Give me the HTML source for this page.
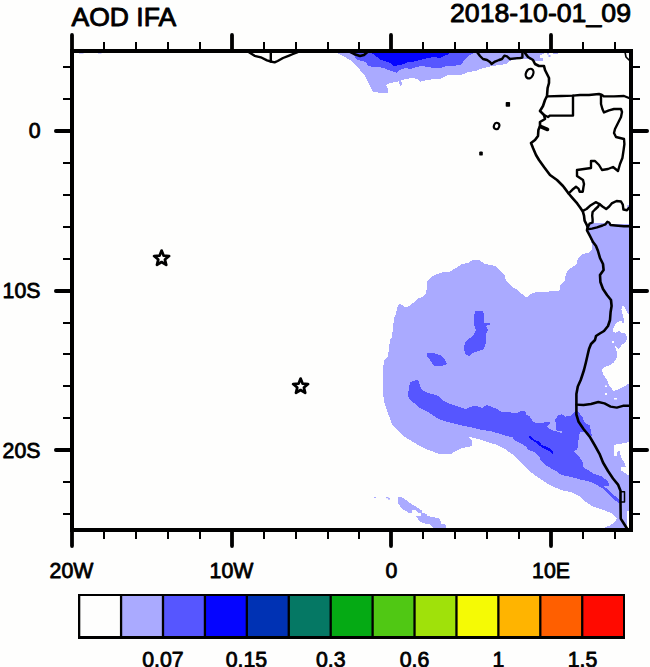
<!DOCTYPE html>
<html><head><meta charset="utf-8"><title>AOD IFA</title>
<style>
html,body{margin:0;padding:0;background:#fefefd;}
body{width:650px;height:667px;overflow:hidden;}
svg{display:block;}
text{font-family:"Liberation Sans",sans-serif;fill:#000;}
</style></head><body>
<svg width="650" height="667" viewBox="0 0 650 667">
<rect x="0" y="0" width="650" height="667" fill="#fefefd"/>
<polygon points="334.0,52.0 340.0,54.4 345.0,57.0 350.0,60.0 355.0,65.0 360.0,70.0 365.0,76.0 368.0,82.0 371.0,88.0 373.0,91.6 378.0,92.6 388.0,92.6 388.0,89.0 386.0,85.0 390.0,83.0 396.0,82.0 399.0,81.0 400.0,86.0 402.0,84.0 401.0,80.5 406.0,79.0 412.0,78.0 418.0,79.0 420.0,82.0 422.0,81.0 428.0,80.0 434.0,79.0 440.0,79.0 444.0,77.0 448.0,75.0 460.0,75.0 464.0,74.0 468.0,72.0 476.0,71.0 480.0,69.0 484.0,68.0 492.0,66.0 500.0,65.0 506.0,64.0 508.0,62.0 512.0,60.0 520.0,59.0 526.0,59.0 532.0,60.0 537.0,61.2 543.0,61.2 543.0,58.5 540.0,58.0 540.5,55.5 543.0,54.2 545.4,52.0" fill="#aaaaff" shape-rendering="crispEdges" />
<rect x="547" y="53" width="2" height="1.5" fill="#aaaaff"/><rect x="548.5" y="55" width="2" height="2" fill="#aaaaff"/><rect x="553" y="53" width="5" height="1" fill="#aaaaff"/>
<polygon points="349.0,52.0 354.0,55.0 357.0,60.0 362.0,61.0 366.0,62.0 368.0,65.6 372.0,67.0 377.0,67.0 384.0,68.0 388.0,70.0 394.0,72.0 397.0,73.0 399.0,70.0 406.0,68.0 410.0,69.0 416.0,67.0 422.0,66.0 428.0,67.0 434.0,68.0 440.0,68.0 446.0,66.0 452.0,66.0 460.0,65.0 463.0,62.0 465.0,59.0 468.0,56.0 472.0,54.0 476.0,52.0" fill="#5656ff" shape-rendering="crispEdges" />
<polygon points="367.0,52.0 373.0,54.0 377.0,57.0 380.0,60.0 385.0,61.0 390.0,63.0 394.0,66.0 400.0,65.0 404.0,64.0 408.0,62.0 414.0,61.6 420.0,60.0 424.0,59.0 428.0,58.0 434.0,57.0 440.0,58.0 444.0,56.0 448.0,54.4 450.0,52.0" fill="#0505ff" shape-rendering="crispEdges" />
<polygon points="589.5,224.0 592.6,222.5 606.0,222.5 608.0,221.3 610.0,224.3 629.5,224.5 629.5,529.0 604.5,527.9 610.6,525.0 615.5,521.5 616.8,518.0 613.0,514.0 608.0,511.7 600.8,509.0 593.4,506.8 586.0,502.0 578.6,495.7 571.0,492.0 563.8,490.8 556.5,488.0 549.0,484.6 541.7,479.7 534.0,474.8 527.0,468.6 519.5,461.0 512.0,454.0 504.8,449.0 497.4,445.0 490.0,443.0 482.0,440.0 474.0,438.0 469.0,437.0 472.0,441.0 472.0,446.0 468.0,447.0 462.0,448.0 456.0,451.0 450.0,454.4 440.0,454.4 434.0,452.0 426.0,449.0 418.0,445.0 410.0,440.0 403.0,436.0 397.0,430.0 392.0,424.0 389.0,416.0 386.0,408.0 383.6,400.0 383.0,380.0 383.0,370.0 384.0,360.0 388.0,356.0 389.0,348.0 390.0,340.0 392.0,337.0 393.0,328.0 394.0,318.0 396.0,314.0 397.0,308.0 399.0,304.0 402.0,305.0 405.0,307.6 409.0,306.0 413.0,303.0 417.0,299.0 422.0,297.0 426.0,293.0 427.0,288.0 427.0,282.0 430.0,278.0 436.0,274.4 442.0,272.4 450.0,271.6 456.0,268.0 462.0,264.0 468.0,263.0 473.0,260.0 479.0,260.0 485.0,264.0 490.0,265.0 495.0,266.0 500.0,271.0 505.0,276.0 506.0,281.0 511.0,286.0 516.0,289.0 522.0,294.0 527.0,297.6 530.0,294.0 535.0,292.4 542.0,292.4 548.0,291.6 560.0,290.4 560.4,285.0 565.0,280.0 565.6,275.0 568.0,270.0 574.0,266.0 577.0,263.0 578.0,258.0 582.0,254.0 588.0,253.0 592.0,250.0 592.0,244.0 590.0,238.0 588.0,231.0 587.5,227.5" fill="#aaaaff" shape-rendering="crispEdges" />
<rect x="627.3" y="205" width="2" height="4.5" fill="#aaaaff"/>
<polygon points="622.2,306.0 624.6,306.8 626.2,310.7 628.5,313.9 629.5,316.0 629.5,383.0 626.2,385.4 621.4,387.8 616.7,390.1 612.8,390.9 611.2,387.8 608.9,385.4 607.3,380.7 604.9,376.8 602.6,373.6 602.3,368.9 605.7,366.5 610.4,365.0 613.6,362.6 616.7,357.9 617.5,353.2 615.9,349.2 615.2,346.1 619.1,349.2 621.4,345.3 625.4,342.2 627.0,339.0 626.2,334.3 623.8,332.7 621.4,333.5 619.9,330.4 615.2,332.7 612.8,332.0 613.6,328.0 615.2,324.0 617.5,321.7 621.4,321.0 623.0,324.0 624.6,320.2 623.0,317.0 622.2,312.3 621.4,309.2" fill="#fefefd" shape-rendering="crispEdges" />
<rect x="612" y="341" width="2" height="2" fill="#fff"/><rect x="605" y="385.5" width="2" height="1.5" fill="#fff"/><rect x="605" y="393" width="2" height="2" fill="#fff"/><rect x="614" y="398" width="3" height="1.5" fill="#fff"/>
<polygon points="614.0,445.0 620.0,443.8 626.0,442.7 629.5,442.0 629.5,475.0 627.5,474.5 626.0,473.4 620.7,470.4 620.7,467.4 626.0,466.7 623.7,461.4 620.7,457.0 620.0,451.0 617.7,451.0 617.0,456.0 614.0,456.0" fill="#fefefd" shape-rendering="crispEdges" />
<rect x="627" y="511" width="2" height="17" fill="#fff" shape-rendering="crispEdges"/>
<polygon points="410.0,382.0 416.0,380.0 419.0,381.0 420.0,386.0 422.0,390.0 428.0,393.0 436.0,395.0 440.0,397.0 442.0,400.0 448.0,403.0 456.0,406.0 462.0,408.0 466.0,409.0 472.0,406.4 478.0,406.4 482.0,408.0 487.0,405.0 492.0,407.0 497.4,409.0 500.0,411.0 503.7,412.3 507.4,411.7 512.3,412.9 517.2,412.9 522.2,410.5 525.2,411.7 526.5,414.8 529.5,416.0 530.8,418.5 533.2,421.5 536.9,423.4 540.6,422.8 548.0,422.2 549.2,421.5 549.8,423.4 546.8,426.5 549.2,428.9 554.2,430.8 561.5,433.0 561.5,431.4 556.0,430.2 555.4,419.7 557.8,415.4 561.5,414.2 565.2,416.6 570.2,416.0 575.0,411.5 577.4,410.8 582.3,417.0 584.8,423.0 589.7,425.5 591.0,431.7 592.0,436.0 586.0,432.0 580.0,432.0 578.6,439.0 577.4,449.0 573.7,451.4 578.6,456.3 582.3,461.0 583.5,467.4 593.4,473.5 600.8,476.0 608.0,481.0 609.4,485.8 603.0,485.8 608.0,489.5 613.0,494.5 618.0,498.0 620.5,501.8 619.0,503.0 615.5,500.6 610.6,495.7 604.5,489.5 598.3,485.8 591.0,482.0 581.0,479.7 571.0,477.0 561.4,474.8 554.0,469.8 546.6,466.0 540.6,460.5 539.4,456.6 535.7,453.0 527.7,449.2 526.5,446.8 522.2,444.3 514.8,440.6 512.3,437.2 505.0,435.7 500.0,433.8 490.0,431.0 482.0,430.0 474.0,428.0 464.0,426.0 456.0,424.0 448.0,422.0 440.0,419.6 434.0,416.0 428.0,412.0 420.0,408.0 414.0,403.0 409.0,399.0 408.0,395.0 409.0,388.0" fill="#5656ff" shape-rendering="crispEdges" />
<polygon points="475.0,311.0 483.0,311.0 484.0,315.0 484.0,323.0 490.0,323.0 490.0,325.0 486.0,325.6 488.0,330.0 486.0,334.0 486.0,342.0 484.0,349.0 479.0,351.0 472.0,353.0 469.0,356.0 465.0,354.0 464.0,348.0 465.0,342.0 470.0,338.0 474.0,334.0 476.0,330.0 474.0,324.0 474.0,318.0" fill="#5656ff" shape-rendering="crispEdges" />
<polygon points="427.0,353.0 433.0,353.0 440.0,355.0 444.0,358.0 447.0,364.0 442.0,366.0 434.0,365.6 430.0,360.0 427.0,356.0" fill="#5656ff" shape-rendering="crispEdges" />
<polygon points="529.0,436.0 532.0,437.0 534.5,440.0 539.4,441.8 541.8,445.0 546.8,446.8 550.5,448.6 553.0,451.0 553.0,454.0 549.8,451.5 545.5,449.0 541.2,447.0 537.0,443.5 532.6,440.5 529.3,437.5" fill="#0505ff" shape-rendering="crispEdges" />
<polygon points="398.0,497.4 401.5,497.4 405.4,499.5 409.2,502.3 413.8,505.4 417.7,507.7 421.5,510.3 422.3,513.0 426.0,513.8 427.7,516.0 433.0,517.4 437.7,517.7 440.0,520.0 441.5,523.8 445.4,524.6 446.0,528.0 433.0,528.0 430.0,524.6 423.0,523.0 419.2,520.8 417.0,517.7 415.4,516.0 420.8,516.0 421.5,513.8 417.7,512.3 416.0,510.3 412.3,510.3 411.5,513.4 408.5,513.4 406.0,510.8 402.3,509.2 400.0,506.0 398.0,503.0" fill="#aaaaff" shape-rendering="crispEdges" />
<rect x="386" y="497" width="2.5" height="1.2" fill="#aaaaff"/><rect x="388" y="498" width="2" height="1.6" fill="#aaaaff"/><rect x="374" y="497" width="2" height="1" fill="#aaaaff"/>
<rect x="79" y="52.6" width="4.5" height="1" fill="#aaaaff"/><rect x="98" y="52.6" width="3.5" height="1" fill="#aaaaff"/>
<polyline points="249.0,52.2 254.6,55.8 260.8,57.3 267.0,60.4 270.8,61.5 274.6,62.4 277.7,61.0 283.0,58.0 288.5,55.8 293.0,54.0 297.7,52.2" fill="none" stroke="#000" stroke-width="2.40" stroke-linejoin="round" stroke-linecap="round" />
<polyline points="270.8,52.0 270.8,61.5" fill="none" stroke="#000" stroke-width="2.40" stroke-linejoin="round" stroke-linecap="round" />
<polyline points="349.0,51.5 354.0,54.0 360.0,56.0 364.0,55.0 368.0,51.5" fill="none" stroke="#000" stroke-width="2.40" stroke-linejoin="round" stroke-linecap="round" />
<polyline points="477.0,52.0 480.0,56.0 483.0,59.0 487.0,60.0 490.0,62.0 491.6,64.0 495.0,61.6 499.0,60.0 502.0,59.0 504.4,55.6 507.0,56.4 510.0,59.0 515.0,58.4 520.0,58.0 522.4,57.6 522.4,52.0" fill="none" stroke="#000" stroke-width="2.40" stroke-linejoin="round" stroke-linecap="round" />
<polyline points="525.0,53.0 528.0,57.0 533.0,60.0 535.0,64.0 539.0,66.0 544.0,66.0 545.0,70.0 547.0,74.0 549.0,78.0 549.0,83.0 547.6,88.0 547.0,96.0 545.0,100.0 543.0,106.0 540.0,111.0 544.0,115.0 545.0,119.0 540.0,122.0 540.0,126.0 538.4,130.0 538.0,136.0 535.0,140.0 531.0,143.0 533.0,148.0 536.0,155.0 539.0,160.0 544.0,167.0 550.0,175.0 557.0,180.0 563.0,186.0 565.0,188.6 568.6,193.5 572.3,197.8 577.2,203.4 580.3,207.7 582.8,211.4 584.0,215.7 584.6,220.6 586.5,224.3 587.7,227.4 587.0,230.5 589.0,234.2 592.0,240.0 593.0,242.0 596.0,246.0 598.0,251.0 600.0,258.0 603.0,264.0 603.6,270.0 600.0,275.0 600.4,282.0 603.0,289.0 607.0,295.0 611.0,300.0 611.6,306.0 610.6,312.0 610.0,320.0 608.0,326.0 604.0,331.0 599.0,334.0 596.0,336.0 595.0,340.0 591.0,344.0 589.0,349.0 587.6,355.0 586.0,362.0 584.0,370.0 582.7,374.0 580.7,380.0 577.8,386.5 576.4,394.0 576.4,404.6 576.4,414.5 578.6,421.8 583.5,429.0 589.7,436.6 594.6,445.0 599.5,453.8 603.0,462.5 608.0,471.0 613.0,478.5 618.0,484.6 620.5,490.8 620.5,503.0 620.7,518.6 623.5,523.0 627.0,528.5" fill="none" stroke="#000" stroke-width="2.60" stroke-linejoin="round" stroke-linecap="round" />
<polyline points="621.0,491.8 624.5,491.8 624.5,502.0 621.0,502.0" fill="none" stroke="#000" stroke-width="1.50" stroke-linejoin="round" stroke-linecap="round" />
<polyline points="540.5,126.5 547.5,129.5" fill="none" stroke="#000" stroke-width="3.60" stroke-linejoin="round" stroke-linecap="round" />
<polyline points="547.0,96.4 561.0,96.0 573.0,95.6 580.0,95.0 589.0,95.0 599.0,94.0 602.0,95.0 604.0,96.4 614.0,96.4 624.0,96.0 629.0,98.0" fill="none" stroke="#000" stroke-width="2.40" stroke-linejoin="round" stroke-linecap="round" />
<polyline points="573.0,95.6 573.0,115.6 550.0,115.6 548.0,117.0 544.0,115.0" fill="none" stroke="#000" stroke-width="2.40" stroke-linejoin="round" stroke-linecap="round" />
<polyline points="601.0,95.0 601.0,98.0 601.0,104.0 602.4,109.0 604.0,112.4 609.0,110.4 614.0,109.0 621.0,109.0 622.0,112.0 621.0,117.0 619.0,121.0 617.0,125.0 615.0,129.0 614.0,133.0 616.0,137.0 620.0,138.0 624.0,139.0 624.4,144.0 623.6,150.0 622.4,158.0 620.0,164.0 618.0,171.0 613.0,167.0 608.0,169.0 602.0,170.0 599.0,165.0 595.0,161.0 591.0,161.0 591.0,168.0 584.0,169.0 577.0,170.0 577.0,176.0 580.0,178.0 583.0,180.0 584.0,184.0 583.4,187.4 582.8,191.7 579.7,191.7 578.5,188.6 576.0,186.8 572.3,189.8 568.6,193.5" fill="none" stroke="#000" stroke-width="2.40" stroke-linejoin="round" stroke-linecap="round" />
<polyline points="582.8,210.8 586.5,209.0 590.8,205.2 595.7,202.2 599.4,204.0 602.5,206.5 606.2,209.0 609.2,206.5 611.7,203.4 616.6,201.0 621.0,201.5 622.8,204.6 623.4,209.5 627.0,210.2 629.0,207.7" fill="none" stroke="#000" stroke-width="2.40" stroke-linejoin="round" stroke-linecap="round" />
<polyline points="599.4,204.0 598.2,206.5 595.0,209.5 592.6,212.0 592.2,215.7 592.6,219.4 592.6,222.5 589.5,223.7 587.7,227.4" fill="none" stroke="#000" stroke-width="2.40" stroke-linejoin="round" stroke-linecap="round" />
<polyline points="587.0,229.2 592.0,228.6 597.0,227.4 602.5,225.5 605.5,224.3 607.4,221.8 609.2,222.5 610.5,225.0 615.4,225.5 624.0,226.2 629.0,226.2" fill="none" stroke="#000" stroke-width="2.40" stroke-linejoin="round" stroke-linecap="round" />
<polyline points="576.4,404.6 583.5,405.0 591.0,404.0 598.3,402.0 604.5,403.4 610.6,406.6 616.8,407.6 623.0,405.8 629.0,405.8" fill="none" stroke="#000" stroke-width="2.40" stroke-linejoin="round" stroke-linecap="round" />
<polyline points="625.0,52.0 626.0,57.0 629.0,60.0" fill="none" stroke="#000" stroke-width="1.60" stroke-linejoin="round" stroke-linecap="round" />
<ellipse cx="529.6" cy="73.6" rx="3.6" ry="5.0" transform="rotate(25 529.6 73.6)" fill="none" stroke="#000" stroke-width="2.3"/>
<ellipse cx="496.6" cy="126" rx="2.7" ry="3.2" transform="rotate(20 496.6 126)" fill="none" stroke="#000" stroke-width="2.1"/>
<rect x="505.7" y="102" width="4.4" height="4.8" rx="0.8" fill="#000"/>
<rect x="479.2" y="151.4" width="3.6" height="4.2" rx="1.2" fill="#000"/>
<polygon points="161.60,250.60 163.66,255.67 169.11,256.06 164.93,259.58 166.24,264.89 161.60,262.00 156.96,264.89 158.27,259.58 154.09,256.06 159.54,255.67" fill="#fefefd" stroke="#000" stroke-width="2.7" stroke-linejoin="round"/>
<polygon points="300.60,378.60 302.66,383.67 308.11,384.06 303.93,387.58 305.24,392.89 300.60,390.00 295.96,392.89 297.27,387.58 293.09,384.06 298.54,383.67" fill="#fefefd" stroke="#000" stroke-width="2.7" stroke-linejoin="round"/>
<g shape-rendering="crispEdges">
<rect x="72.0" y="51.0" width="559.0" height="479.0" fill="none" stroke="#000" stroke-width="4"/>
<line x1="104.0" y1="51.0" x2="104.0" y2="42.0" stroke="#000" stroke-width="2"/>
<line x1="104.0" y1="530.0" x2="104.0" y2="539.0" stroke="#000" stroke-width="2"/>
<line x1="136.0" y1="51.0" x2="136.0" y2="42.0" stroke="#000" stroke-width="2"/>
<line x1="136.0" y1="530.0" x2="136.0" y2="539.0" stroke="#000" stroke-width="2"/>
<line x1="168.0" y1="51.0" x2="168.0" y2="42.0" stroke="#000" stroke-width="2"/>
<line x1="168.0" y1="530.0" x2="168.0" y2="539.0" stroke="#000" stroke-width="2"/>
<line x1="200.0" y1="51.0" x2="200.0" y2="42.0" stroke="#000" stroke-width="2"/>
<line x1="200.0" y1="530.0" x2="200.0" y2="539.0" stroke="#000" stroke-width="2"/>
<line x1="264.0" y1="51.0" x2="264.0" y2="42.0" stroke="#000" stroke-width="2"/>
<line x1="264.0" y1="530.0" x2="264.0" y2="539.0" stroke="#000" stroke-width="2"/>
<line x1="296.0" y1="51.0" x2="296.0" y2="42.0" stroke="#000" stroke-width="2"/>
<line x1="296.0" y1="530.0" x2="296.0" y2="539.0" stroke="#000" stroke-width="2"/>
<line x1="328.0" y1="51.0" x2="328.0" y2="42.0" stroke="#000" stroke-width="2"/>
<line x1="328.0" y1="530.0" x2="328.0" y2="539.0" stroke="#000" stroke-width="2"/>
<line x1="359.0" y1="51.0" x2="359.0" y2="42.0" stroke="#000" stroke-width="2"/>
<line x1="359.0" y1="530.0" x2="359.0" y2="539.0" stroke="#000" stroke-width="2"/>
<line x1="423.0" y1="51.0" x2="423.0" y2="42.0" stroke="#000" stroke-width="2"/>
<line x1="423.0" y1="530.0" x2="423.0" y2="539.0" stroke="#000" stroke-width="2"/>
<line x1="455.0" y1="51.0" x2="455.0" y2="42.0" stroke="#000" stroke-width="2"/>
<line x1="455.0" y1="530.0" x2="455.0" y2="539.0" stroke="#000" stroke-width="2"/>
<line x1="487.0" y1="51.0" x2="487.0" y2="42.0" stroke="#000" stroke-width="2"/>
<line x1="487.0" y1="530.0" x2="487.0" y2="539.0" stroke="#000" stroke-width="2"/>
<line x1="519.0" y1="51.0" x2="519.0" y2="42.0" stroke="#000" stroke-width="2"/>
<line x1="519.0" y1="530.0" x2="519.0" y2="539.0" stroke="#000" stroke-width="2"/>
<line x1="583.0" y1="51.0" x2="583.0" y2="42.0" stroke="#000" stroke-width="2"/>
<line x1="583.0" y1="530.0" x2="583.0" y2="539.0" stroke="#000" stroke-width="2"/>
<line x1="615.0" y1="51.0" x2="615.0" y2="42.0" stroke="#000" stroke-width="2"/>
<line x1="615.0" y1="530.0" x2="615.0" y2="539.0" stroke="#000" stroke-width="2"/>
<line x1="72.0" y1="514.0" x2="63.0" y2="514.0" stroke="#000" stroke-width="2"/>
<line x1="631.0" y1="514.0" x2="640.0" y2="514.0" stroke="#000" stroke-width="2"/>
<line x1="72.0" y1="482.0" x2="63.0" y2="482.0" stroke="#000" stroke-width="2"/>
<line x1="631.0" y1="482.0" x2="640.0" y2="482.0" stroke="#000" stroke-width="2"/>
<line x1="72.0" y1="418.0" x2="63.0" y2="418.0" stroke="#000" stroke-width="2"/>
<line x1="631.0" y1="418.0" x2="640.0" y2="418.0" stroke="#000" stroke-width="2"/>
<line x1="72.0" y1="386.0" x2="63.0" y2="386.0" stroke="#000" stroke-width="2"/>
<line x1="631.0" y1="386.0" x2="640.0" y2="386.0" stroke="#000" stroke-width="2"/>
<line x1="72.0" y1="354.0" x2="63.0" y2="354.0" stroke="#000" stroke-width="2"/>
<line x1="631.0" y1="354.0" x2="640.0" y2="354.0" stroke="#000" stroke-width="2"/>
<line x1="72.0" y1="323.0" x2="63.0" y2="323.0" stroke="#000" stroke-width="2"/>
<line x1="631.0" y1="323.0" x2="640.0" y2="323.0" stroke="#000" stroke-width="2"/>
<line x1="72.0" y1="259.0" x2="63.0" y2="259.0" stroke="#000" stroke-width="2"/>
<line x1="631.0" y1="259.0" x2="640.0" y2="259.0" stroke="#000" stroke-width="2"/>
<line x1="72.0" y1="227.0" x2="63.0" y2="227.0" stroke="#000" stroke-width="2"/>
<line x1="631.0" y1="227.0" x2="640.0" y2="227.0" stroke="#000" stroke-width="2"/>
<line x1="72.0" y1="195.0" x2="63.0" y2="195.0" stroke="#000" stroke-width="2"/>
<line x1="631.0" y1="195.0" x2="640.0" y2="195.0" stroke="#000" stroke-width="2"/>
<line x1="72.0" y1="163.0" x2="63.0" y2="163.0" stroke="#000" stroke-width="2"/>
<line x1="631.0" y1="163.0" x2="640.0" y2="163.0" stroke="#000" stroke-width="2"/>
<line x1="72.0" y1="99.0" x2="63.0" y2="99.0" stroke="#000" stroke-width="2"/>
<line x1="631.0" y1="99.0" x2="640.0" y2="99.0" stroke="#000" stroke-width="2"/>
<line x1="72.0" y1="67.0" x2="63.0" y2="67.0" stroke="#000" stroke-width="2"/>
<line x1="631.0" y1="67.0" x2="640.0" y2="67.0" stroke="#000" stroke-width="2"/>
</g>
<line x1="72.0" y1="51.0" x2="72.0" y2="34.9" stroke="#000" stroke-width="3.8" stroke-linecap="round"/>
<line x1="72.0" y1="530.0" x2="72.0" y2="546.1" stroke="#000" stroke-width="3.8" stroke-linecap="round"/>
<line x1="232.0" y1="51.0" x2="232.0" y2="34.9" stroke="#000" stroke-width="3.8" stroke-linecap="round"/>
<line x1="232.0" y1="530.0" x2="232.0" y2="546.1" stroke="#000" stroke-width="3.8" stroke-linecap="round"/>
<line x1="391.0" y1="51.0" x2="391.0" y2="34.9" stroke="#000" stroke-width="3.8" stroke-linecap="round"/>
<line x1="391.0" y1="530.0" x2="391.0" y2="546.1" stroke="#000" stroke-width="3.8" stroke-linecap="round"/>
<line x1="551.0" y1="51.0" x2="551.0" y2="34.9" stroke="#000" stroke-width="3.8" stroke-linecap="round"/>
<line x1="551.0" y1="530.0" x2="551.0" y2="546.1" stroke="#000" stroke-width="3.8" stroke-linecap="round"/>
<line x1="72.0" y1="450.0" x2="55.9" y2="450.0" stroke="#000" stroke-width="3.8" stroke-linecap="round"/>
<line x1="631.0" y1="450.0" x2="647.1" y2="450.0" stroke="#000" stroke-width="3.8" stroke-linecap="round"/>
<line x1="72.0" y1="291.0" x2="55.9" y2="291.0" stroke="#000" stroke-width="3.8" stroke-linecap="round"/>
<line x1="631.0" y1="291.0" x2="647.1" y2="291.0" stroke="#000" stroke-width="3.8" stroke-linecap="round"/>
<line x1="72.0" y1="131.0" x2="55.9" y2="131.0" stroke="#000" stroke-width="3.8" stroke-linecap="round"/>
<line x1="631.0" y1="131.0" x2="647.1" y2="131.0" stroke="#000" stroke-width="3.8" stroke-linecap="round"/>
<text x="71.5" y="25.8" font-size="26.5" fill="#000" stroke="#000" stroke-width="0.9" stroke-linejoin="round">AOD IFA</text>
<text x="631" y="21.9" font-size="26.7" text-anchor="end" fill="#000" stroke="#000" stroke-width="0.9" stroke-linejoin="round">2018-10-01_09</text>
<text x="40.5" y="138.1" font-size="21.3" text-anchor="end" fill="#000" stroke="#000" stroke-width="0.8" stroke-linejoin="round">0</text>
<text x="40.5" y="298.1" font-size="21.3" text-anchor="end" fill="#000" stroke="#000" stroke-width="0.8" stroke-linejoin="round">10S</text>
<text x="40.5" y="457.9" font-size="21.3" text-anchor="end" fill="#000" stroke="#000" stroke-width="0.8" stroke-linejoin="round">20S</text>
<text x="71.5" y="578" font-size="21.3" text-anchor="middle" fill="#000" stroke="#000" stroke-width="0.8" stroke-linejoin="round">20W</text>
<text x="231.5" y="578" font-size="21.3" text-anchor="middle" fill="#000" stroke="#000" stroke-width="0.8" stroke-linejoin="round">10W</text>
<text x="391.4" y="578" font-size="21.3" text-anchor="middle" fill="#000" stroke="#000" stroke-width="0.8" stroke-linejoin="round">0</text>
<text x="551" y="578" font-size="21.3" text-anchor="middle" fill="#000" stroke="#000" stroke-width="0.8" stroke-linejoin="round">10E</text>
<text x="163" y="666.7" font-size="21.3" text-anchor="middle" fill="#000" stroke="#000" stroke-width="0.8" stroke-linejoin="round">0.07</text>
<text x="246.5" y="666.7" font-size="21.3" text-anchor="middle" fill="#000" stroke="#000" stroke-width="0.8" stroke-linejoin="round">0.15</text>
<text x="330.7" y="666.7" font-size="21.3" text-anchor="middle" fill="#000" stroke="#000" stroke-width="0.8" stroke-linejoin="round">0.3</text>
<text x="414.5" y="666.7" font-size="21.3" text-anchor="middle" fill="#000" stroke="#000" stroke-width="0.8" stroke-linejoin="round">0.6</text>
<text x="498.5" y="666.7" font-size="21.3" text-anchor="middle" fill="#000" stroke="#000" stroke-width="0.8" stroke-linejoin="round">1</text>
<text x="582.5" y="666.7" font-size="21.3" text-anchor="middle" fill="#000" stroke="#000" stroke-width="0.8" stroke-linejoin="round">1.5</text>
<g shape-rendering="crispEdges">
<rect x="78" y="594" width="547" height="45" fill="#000"/>
</g>
<rect x="80.30" y="596" width="39.62" height="40" fill="#fefefd"/>
<rect x="122.22" y="596" width="39.62" height="40" fill="#aaaaff"/>
<rect x="164.15" y="596" width="39.62" height="40" fill="#5656ff"/>
<rect x="206.07" y="596" width="39.62" height="40" fill="#0505ff"/>
<rect x="247.99" y="596" width="39.62" height="40" fill="#0032b4"/>
<rect x="289.92" y="596" width="39.62" height="40" fill="#057864"/>
<rect x="331.84" y="596" width="39.62" height="40" fill="#05aa14"/>
<rect x="373.76" y="596" width="39.62" height="40" fill="#50c814"/>
<rect x="415.68" y="596" width="39.62" height="40" fill="#a0e10a"/>
<rect x="457.61" y="596" width="39.62" height="40" fill="#f5fa05"/>
<rect x="499.53" y="596" width="39.62" height="40" fill="#ffb400"/>
<rect x="541.45" y="596" width="39.62" height="40" fill="#ff5f00"/>
<rect x="583.38" y="596" width="39.62" height="40" fill="#ff0a00"/>
</svg>
</body></html>
